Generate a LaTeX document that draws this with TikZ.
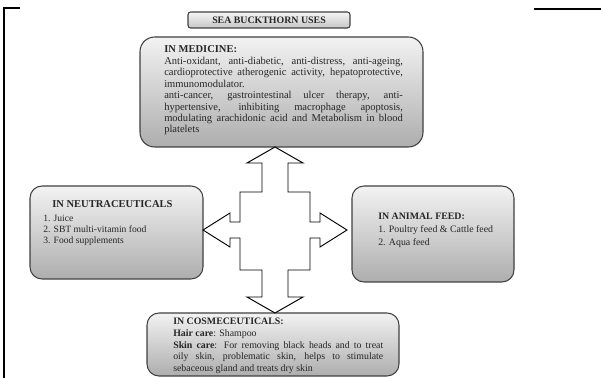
\documentclass[tikz,border=0pt]{standalone}
\usepackage{fontspec}
\setmainfont{Liberation Serif}
\usetikzlibrary{fit}
\begin{document}
\begin{tikzpicture}[x=0.75pt,y=-0.75pt,
  box/.style={draw=black!75, line width=0.8pt, rounded corners=11pt,
    top color=black!5, bottom color=black!32, inner sep=0pt},
  txt/.style={anchor=north west, inner sep=0pt, align=justify, text=black!85},
  frame/.style={line width=1.5pt, black},
  quad/.style={draw=black, line width=0.7pt, fill=white, line join=miter}]
\useasboundingbox (0,0) rectangle (601,378);
% page rules
\draw[frame] (4,378) -- (4,8) -- (20,8);
\draw[frame] (534,9) -- (601,9);
% title
\node[box, rounded corners=2pt, top color=black!4, bottom color=black!22,
  fit={(188,12)(350,28)}] (title) {};
\node[font=\fontsize{7.4}{8}\selectfont\bfseries, text=black!85] (titletxt) at (title.center) {SEA BUCKTHORN USES};
% boxes
\node[box, fit={(140,37)(423,147)}] (med) {};
\node[box, rounded corners=9pt, fit={(30,186)(203,279)}] (neu) {};
\node[box, rounded corners=9pt, fit={(352,186)(514,282)}] (ani) {};
\node[box, rounded corners=9pt, fit={(147,313)(399,376)}] (cos) {};
% four-way arrow
\draw[quad] (275,147) -- (303,163) -- (288,163) -- (288,192) -- (310,192)
  -- (310,222) -- (320,222) -- (320,213) -- (347,230) -- (320,247) -- (320,238)
  -- (310,238) -- (310,270) -- (288,270) -- (288,297) -- (303,297) -- (275,313)
  -- (247,297) -- (262,297) -- (262,270) -- (240,270) -- (240,238) -- (230,238)
  -- (230,247) -- (203,230) -- (230,213) -- (230,222) -- (240,222) -- (240,192)
  -- (262,192) -- (262,163) -- (247,163) -- cycle;
% texts
\node[txt, text width=179pt, font=\fontsize{7.9}{8.55}\selectfont] (medtxt) at (164,45)
 {\textbf{IN MEDICINE:}\\[0.6pt]
 Anti-oxidant, anti-diabetic, anti-distress, anti-ageing,\linebreak
 cardioprotective atherogenic activity, hepatoprotective,\linebreak
 immunomodulator.\\
 anti-cancer, gastrointestinal ulcer therapy, anti-\linebreak
 hypertensive, inhibiting macrophage apoptosis,\linebreak
 modulating arachidonic acid and Metabolism in blood\linebreak
 platelets};
\node[txt, align=left, font=\fontsize{7.9}{8.5}\selectfont\bfseries] (neuhead) at (52,200) {IN NEUTRACEUTICALS};
\node[txt, align=left, font=\fontsize{7.2}{8.25}\selectfont] (neutxt) at (43,215)
 {1. Juice\\ 2. SBT multi-vitamin food\\ 3. Food supplements};
\node[txt, align=left, font=\fontsize{7.4}{9.75}\selectfont] (anitxt) at (378,213)
 {\textbf{IN ANIMAL FEED:}\\ 1. Poultry feed \& Cattle feed\\ 2. Aqua feed};
\node[txt, text width=157.5pt, font=\fontsize{7.4}{8.8}\selectfont] (costxt) at (173,318)
 {\textbf{IN COSMECEUTICALS:}\\
 \textbf{Hair care}: Shampoo\\
 \textbf{Skin care}: For removing black heads and to treat\linebreak
 oily skin, problematic skin, helps to stimulate\linebreak
 sebaceous gland and treats dry skin};
\end{tikzpicture}
\end{document}
